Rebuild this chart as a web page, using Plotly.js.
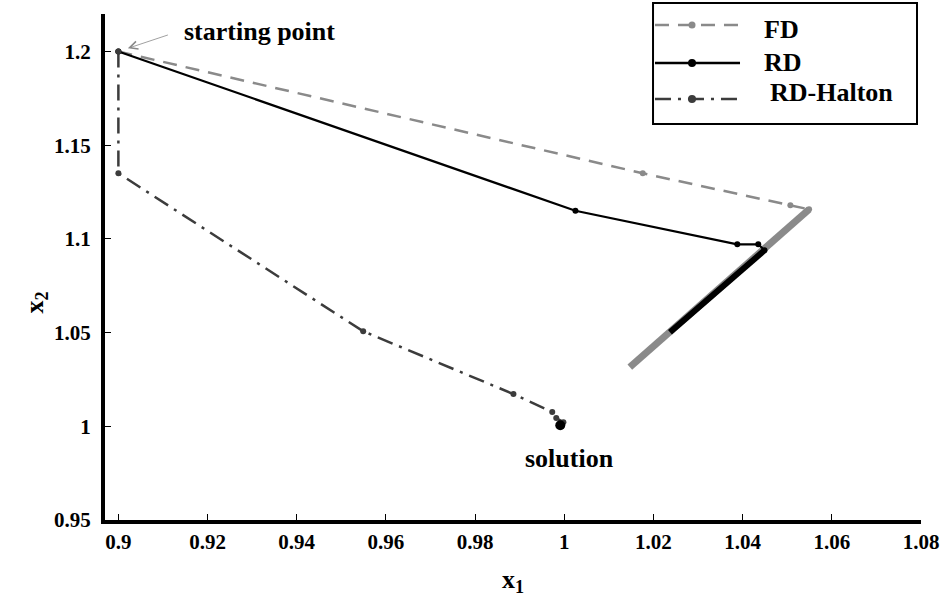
<!DOCTYPE html>
<html>
<head>
<meta charset="utf-8">
<script src="https://cdn.plot.ly/plotly-3.0.1.min.js"></script>
<style>html,body{margin:0;padding:0;background:#fff;}#chart{width:952px;height:597px;}</style>
</head>
<body>
<div id="chart"></div>
<script>
// ---- data ----
const fdX = [0.9, 1.0176, 1.0507, 1.0549];
const fdY = [1.2, 1.135, 1.1179, 1.1158];
const fdTailX = [1.0549, 1.0147];
const fdTailY = [1.1158, 1.0316];

const rdX = [0.9, 1.0025, 1.0388, 1.0435, 1.0449];
const rdY = [1.2, 1.115, 1.0971, 1.0971, 1.0939];
const rdTailX = [1.0449, 1.0237];
const rdTailY = [1.0939, 1.0502];
const rdSolX = [0.9991];
const rdSolY = [1.0006];

const haltonX = [0.9, 0.9, 0.9549, 0.9886, 0.9973, 0.9982, 0.9998];
const haltonY = [1.2, 1.135, 1.0507, 1.0172, 1.0076, 1.0044, 1.0022];

const xTicks = [0.9, 0.92, 0.94, 0.96, 0.98, 1, 1.02, 1.04, 1.06, 1.08];
const xTickText = ["0.9", "0.92", "0.94", "0.96", "0.98", "1", "1.02", "1.04", "1.06", "1.08"];
const yTicks = [0.95, 1, 1.05, 1.1, 1.15, 1.2];
const yTickText = ["0.95", "1", "1.05", "1.1", "1.15", "1.2"];

const seriesNames = ["FD", "RD", "RD-Halton"];

const FONT = "Liberation Serif, Times New Roman, serif";
const cFD = "#8a8a8a", cRD = "#000000", cH = "#3c3c3c";
const dashFD = "14px,9px", dashH = "16px,7px,3px,7px";

const traces = [
  {x: fdTailX, y: fdTailY, mode: "lines", line: {color: cFD, width: 7}, showlegend: false, hoverinfo: "skip"},
  {x: fdX, y: fdY, mode: "lines+markers", name: seriesNames[0], showlegend: false,
   line: {color: cFD, width: 2.5, dash: dashFD}, marker: {color: cFD, size: 6}},
  {x: rdTailX, y: rdTailY, mode: "lines", line: {color: cRD, width: 6}, showlegend: false, hoverinfo: "skip"},
  {x: rdX, y: rdY, mode: "lines+markers", name: seriesNames[1], showlegend: false,
   line: {color: cRD, width: 2.2}, marker: {color: cRD, size: 6}},
  {x: haltonX, y: haltonY, mode: "lines+markers", name: seriesNames[2], showlegend: false,
   line: {color: cH, width: 2.5, dash: dashH}, marker: {color: cH, size: 6}},
  {x: rdSolX, y: rdSolY, mode: "markers", showlegend: false, marker: {color: "#000", size: 10}}
];

const axisCommon = {
  showline: true, linewidth: 4, linecolor: "#000", mirror: false,
  ticks: "inside", ticklen: 6, tickwidth: 1, tickcolor: "#000",
  showgrid: false, zeroline: false,
  tickfont: {family: FONT, size: 21, color: "#000", weight: "bold"}
};

// ---- legend drawn as a box with samples (paper coordinates) ----
const legRows = [
  {lineY: 0.9783, textY: 0.9684, textX: 0.8051, color: cFD, dash: dashFD, width: 2.5, msize: 7},
  {lineY: 0.9032, textY: 0.9051, textX: 0.8051, color: cRD, dash: "solid", width: 2.5, msize: 8},
  {lineY: 0.832, textY: 0.8439, textX: 0.8125, color: cH, dash: dashH, width: 2.5, msize: 8}
];
const shapes = [
  {type: "rect", xref: "paper", yref: "paper", x0: 0.6716, x1: 0.9951, y0: 0.7826, y1: 1.0217,
   line: {color: "#000", width: 2}, fillcolor: "#fff", layer: "above"}
];
const annotations = [];
legRows.forEach((r, i) => {
  shapes.push({type: "line", xref: "paper", yref: "paper", x0: 0.674, x1: 0.7782, y0: r.lineY, y1: r.lineY,
    line: {color: r.color, width: r.width, dash: r.dash}, layer: "above"});
  shapes.push({type: "circle", xref: "paper", yref: "paper", xsizemode: "pixel", ysizemode: "pixel",
    xanchor: 0.7194, yanchor: r.lineY, x0: -r.msize / 2, x1: r.msize / 2, y0: -r.msize / 2, y1: r.msize / 2,
    fillcolor: r.color, line: {color: r.color, width: 0}, layer: "above"});
  annotations.push({x: r.textX, y: r.textY, xref: "paper", yref: "paper", xanchor: "left", yanchor: "middle",
    text: "<b>" + seriesNames[i] + "</b>", showarrow: false, font: {family: FONT, size: 26, color: "#000"}});
});

annotations.push(
  {x: 0.9317, y: 1.2107, xref: "x", yref: "y", text: "<b>starting point</b>", showarrow: false,
   font: {family: FONT, size: 26, color: "#000"}},
  {x: 0.9, y: 1.2, xref: "x", yref: "y", text: "", showarrow: true, ax: 51, ay: -17,
   arrowcolor: "#888", arrowwidth: 0.8, arrowhead: 5, arrowsize: 2, standoff: 10},
  {x: 1.0011, y: 0.9826, xref: "x", yref: "y", text: "<b>solution</b>", showarrow: false,
   font: {family: FONT, size: 26, color: "#000"}},
  {x: -0.107, y: 0.429, xref: "paper", yref: "paper", text: "<b>x<sub>2</sub></b>", showarrow: false,
   textangle: -90, font: {family: FONT, size: 26, color: "#000"}}
);

const layout = {
  width: 952, height: 597,
  margin: {l: 105, r: 31, t: 14, b: 77},
  paper_bgcolor: "#fff", plot_bgcolor: "#fff",
  showlegend: false,
  xaxis: Object.assign({}, axisCommon, {
    range: [0.897, 1.08], tickmode: "array", tickvals: xTicks, ticktext: xTickText,
    title: {text: "<b>x<sub>1</sub></b>", font: {family: FONT, size: 26, color: "#000"}, standoff: 18}
  }),
  yaxis: Object.assign({}, axisCommon, {
    range: [0.95, 1.22], tickmode: "array", tickvals: yTicks, ticktext: yTickText,
    ticklabelstandoff: 6
  }),
  shapes: shapes,
  annotations: annotations
};

Plotly.newPlot("chart", traces, layout, {displayModeBar: false, staticPlot: true});
</script>
</body>
</html>
